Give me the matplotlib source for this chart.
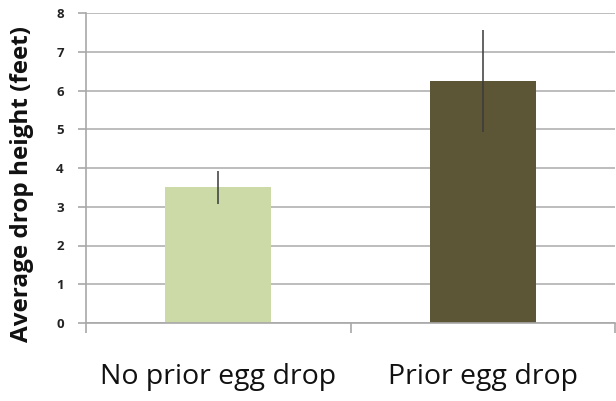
import matplotlib
matplotlib.use("Agg")
import matplotlib.pyplot as plt
import numpy as np

categories = ["No prior egg drop", "Prior egg drop"]
values = [3.5, 6.25]
errors = [0.42, 1.32]
colors = ["#ccdaa8", "#5c5636"]
y_ticks = [0, 1, 2, 3, 4, 5, 6, 7, 8]
y_label = "Average drop height (feet)"

plt.rcParams['font.family'] = ['Open Sans', 'DejaVu Sans']

fig = plt.figure(figsize=(6.16, 4.01), dpi=100)
ax = fig.add_axes([86/616, 1-323/401, (615-86)/616, (323-13)/401])

x = np.arange(len(categories))
ax.bar(x, values, width=0.4, color=colors, zorder=2)
ax.errorbar(x, values, yerr=errors, fmt='none', ecolor='#3a3a3a', elinewidth=1.3,
            capsize=0, zorder=3, alpha=0.85)

ax.set_xlim(-0.5, 1.5)
ax.set_ylim(0, 8)
ax.set_yticks(y_ticks)
ax.set_yticklabels([str(t) for t in y_ticks], fontsize=9.5, fontweight='bold', color='#222222')
ax.yaxis.grid(True, color='#b8b8b8', linewidth=1.3, zorder=0)
ax.set_axisbelow(True)

ax.set_xticks(x)
ax.set_xticklabels(categories, fontsize=20.5, color='#111111')
ax.tick_params(axis='x', which='major', length=0, pad=29)
ax.set_xticks([-0.5, 0.5, 1.5], minor=True)
ax.tick_params(axis='x', which='minor', length=7, width=1.2, color='#a8a8a8')
ax.tick_params(axis='y', length=6, width=1.2, color='#a8a8a8', pad=10)

for s in ['top', 'right']:
    ax.spines[s].set_visible(False)
for s in ['left', 'bottom']:
    ax.spines[s].set_color('#a8a8a8')
    ax.spines[s].set_linewidth(1.2)

ax.set_ylabel(y_label, fontsize=17.5, fontweight='bold', color='#111111')
ax.yaxis.set_label_coords(-0.098, 0.45)

fig.savefig("out.png", dpi=100)
